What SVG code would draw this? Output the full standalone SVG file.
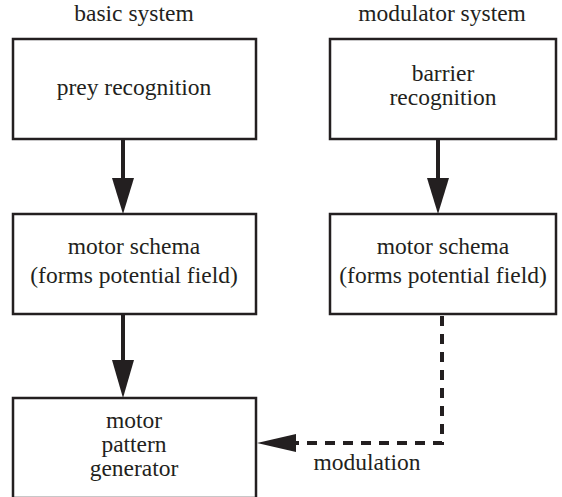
<svg xmlns="http://www.w3.org/2000/svg" width="562" height="497" viewBox="0 0 562 497">
<style>
.box{fill:#fff;stroke:#231f20;stroke-width:2.5}
.arr{stroke:#231f20;stroke-width:4;fill:none}
.dash{stroke:#231f20;stroke-width:4;fill:none;stroke-dasharray:10 8}
.head{fill:#231f20}
</style>
<g font-family="Liberation Serif, DejaVu Serif, serif" font-size="23.5" fill="#231f20" text-anchor="middle">
<text x="134" y="21">basic system</text>
<text x="442" y="21">modulator system</text>
<g id="prey">
<rect class="box" x="13" y="39" width="243" height="100"/>
<text x="134" y="95">prey recognition</text>
</g>
<g id="barrier">
<rect class="box" x="330" y="39" width="226" height="100"/>
<text x="443" y="81">barrier</text>
<text x="443" y="105">recognition</text>
</g>
<g id="schema1">
<rect class="box" x="13" y="214" width="243" height="100"/>
<text x="134" y="254">motor schema</text>
<text x="134" y="283">(forms potential field)</text>
</g>
<g id="schema2">
<rect class="box" x="330" y="214" width="226" height="100"/>
<text x="443" y="254">motor schema</text>
<text x="443" y="283">(forms potential field)</text>
</g>
<g id="mpg">
<rect class="box" x="13" y="398" width="243" height="100"/>
<text x="134" y="428">motor</text>
<text x="134" y="452">pattern</text>
<text x="134" y="476">generator</text>
</g>
<g id="connectors">
<line class="arr" x1="123" y1="139" x2="123" y2="180"/>
<polygon class="head" points="112,178 134,178 123,214"/>
<line class="arr" x1="438" y1="139" x2="438" y2="180"/>
<polygon class="head" points="427,178 449,178 438,214"/>
<line class="arr" x1="123" y1="314" x2="123" y2="362"/>
<polygon class="head" points="112,360 134,360 123,398"/>
<polyline class="dash" points="442,316 442,443 296,443"/>
<polygon class="head" points="257,443 296,434 296,452"/>
<text x="367" y="470">modulation</text>
</g>
</g>
</svg>
